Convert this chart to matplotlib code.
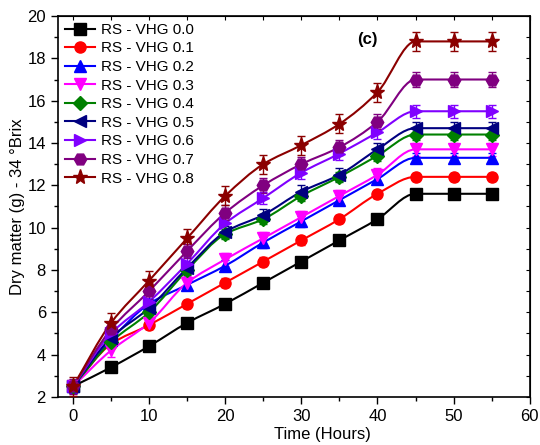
import numpy as np
import matplotlib.pyplot as plt
from matplotlib.path import Path
from matplotlib.patches import PathPatch
from matplotlib.ticker import MultipleLocator

plt.rcParams['font.family'] = ['Liberation Sans', 'DejaVu Sans']

# temps (heures)
time_h = [0, 5, 10, 15, 20, 25, 30, 35, 40, 45, 50, 55]

vhg_00 = [2.5, 3.4, 4.4, 5.5, 6.4, 7.4, 8.4, 9.4, 10.4, 11.6, 11.6, 11.6]
vhg_01 = [2.5, 4.5, 5.4, 6.4, 7.4, 8.4, 9.4, 10.4, 11.6, 12.4, 12.4, 12.4]
vhg_02 = [2.5, 4.7, 6.4, 7.3, 8.2, 9.3, 10.3, 11.3, 12.3, 13.3, 13.3, 13.3]
vhg_03 = [2.5, 4.2, 5.5, 7.4, 8.5, 9.5, 10.5, 11.5, 12.5, 13.7, 13.7, 13.7]
vhg_04 = [2.5, 4.6, 6.0, 8.0, 9.7, 10.4, 11.5, 12.4, 13.4, 14.4, 14.4, 14.4]
vhg_05 = [2.5, 4.8, 6.2, 8.1, 9.8, 10.6, 11.7, 12.5, 13.7, 14.7, 14.7, 14.7]
vhg_06 = [2.5, 5.0, 6.5, 8.3, 10.2, 11.4, 12.6, 13.5, 14.5, 15.5, 15.5, 15.5]
vhg_07 = [2.5, 5.2, 7.0, 8.9, 10.7, 12.0, 13.0, 13.8, 15.0, 17.0, 17.0, 17.0]
vhg_08 = [2.5, 5.5, 7.5, 9.5, 11.5, 13.0, 13.9, 14.9, 16.4, 18.8, 18.8, 18.8]

labels = ['RS - VHG 0.0', 'RS - VHG 0.1', 'RS - VHG 0.2', 'RS - VHG 0.3',
          'RS - VHG 0.4', 'RS - VHG 0.5', 'RS - VHG 0.6', 'RS - VHG 0.7',
          'RS - VHG 0.8']
# écart-type approximatif par série
errors = [0.15, 0.2, 0.25, 0.3, 0.25, 0.3, 0.3, 0.35, 0.45]

series = [vhg_00, vhg_01, vhg_02, vhg_03, vhg_04, vhg_05, vhg_06, vhg_07, vhg_08]
colors = ['black', 'red', 'blue', 'magenta', 'green', 'navy', '#8000ff', 'purple', 'darkred']
markers = ['s', 'o', '^', 'v', 'D', '<', '>', 'H', '*']
sizes = [8, 8, 9, 9, 7, 9, 9, 9, 11]


def smooth_path(x, y):
    # courbe monotone (Fritsch-Carlson) en segments de Bezier
    x = np.asarray(x, float)
    y = np.asarray(y, float)
    h = np.diff(x)
    d = np.diff(y) / h
    n = len(x)
    m = np.zeros(n)
    m[0] = d[0]
    m[-1] = d[-1]
    for k in range(1, n - 1):
        if d[k - 1] * d[k] <= 0:
            m[k] = 0
        else:
            m[k] = 2 / (1 / d[k - 1] + 1 / d[k])
    verts = [(x[0], y[0])]
    codes = [Path.MOVETO]
    for i in range(n - 1):
        c1 = (x[i] + h[i] / 3, y[i] + m[i] * h[i] / 3)
        c2 = (x[i + 1] - h[i] / 3, y[i + 1] - m[i + 1] * h[i] / 3)
        verts += [c1, c2, (x[i + 1], y[i + 1])]
        codes += [Path.CURVE4] * 3
    return Path(verts, codes)


fig = plt.figure(figsize=(5.4, 4.45), dpi=100)
ax = fig.add_axes([0.107, 0.108, 0.874, 0.856])

for vals, lab, col, mk, ms, err in zip(series, labels, colors, markers, sizes, errors):
    ax.add_patch(PathPatch(smooth_path(time_h, vals), facecolor='none',
                           edgecolor=col, lw=1.5, zorder=2))
    ax.errorbar(time_h, vals, yerr=err, fmt='none', ecolor=col, elinewidth=1,
                capsize=3, zorder=3)
    ax.plot(time_h, vals, linestyle='none', marker=mk, color=col, markersize=ms, zorder=4)
    # entrée de légende
    ax.plot([], [], '-', marker=mk, color=col, markersize=ms, lw=1.5, label=lab)

ax.set_xlim(-2, 60)
ax.set_ylim(2, 20)
ax.xaxis.set_major_locator(MultipleLocator(10))
ax.xaxis.set_minor_locator(MultipleLocator(5))
ax.yaxis.set_major_locator(MultipleLocator(2))
ax.yaxis.set_minor_locator(MultipleLocator(1))
ax.tick_params(which='both', direction='out', labelsize=12, width=1)
ax.tick_params(which='major', length=5)
ax.tick_params(which='minor', length=3)
for s in ax.spines.values():
    s.set_linewidth(1.2)

# graduations haut / droite vers l'intérieur
top = ax.secondary_xaxis('top')
top.set_xticks(np.arange(0, 61, 5))
top.tick_params(direction='in', length=3, labeltop=False)
right = ax.secondary_yaxis('right')
right.set_yticks(np.arange(2, 21, 1))
right.tick_params(direction='in', length=3, labelright=False)

ax.set_xlabel('Time (Hours)', fontsize=12)
ax.xaxis.set_label_coords(0.56, -0.078)
ax.set_ylabel('Dry matter (g) - 34 °Brix', fontsize=12, labelpad=2)
ax.text(38.7, 18.9, '(c)', fontsize=12, fontweight='bold', ha='center', va='center')

ax.legend(loc='upper left', frameon=False, fontsize=11, handlelength=2.0,
          handletextpad=0.35, labelspacing=0.3, borderaxespad=0.15,
          borderpad=0.3)

plt.savefig('out.png', dpi=100)
